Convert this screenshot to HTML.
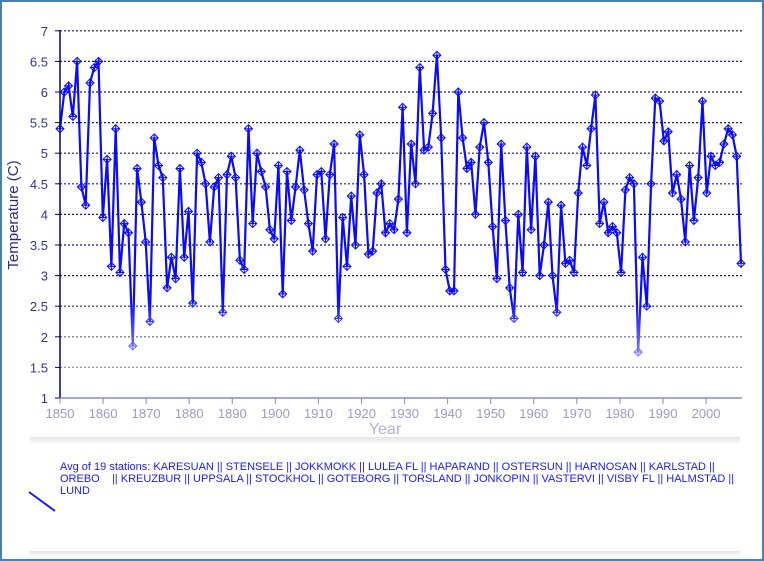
<!DOCTYPE html>
<html><head><meta charset="utf-8"><style>
body{margin:0;background:#fff}
#w{position:relative;width:764px;height:561px;overflow:hidden;background:#fff;font-family:"Liberation Sans",sans-serif}
#frame{position:absolute;left:0;top:0;width:760px;height:557px;border:2px solid #4a7fb0}
.leg{position:absolute;left:60px;top:461px;width:700px;font-size:11px;line-height:12px;color:#1a1aff;white-space:nowrap;letter-spacing:0px}
</style></head><body><div id="w">
<svg id="s" width="764" height="561" style="position:absolute;left:0;top:0">
<defs><linearGradient id="g" x1="0" y1="0" x2="0" y2="1">
<stop offset="0" stop-color="#fff" stop-opacity="0"/><stop offset="0.5" stop-color="#fff" stop-opacity="0.55"/><stop offset="1" stop-color="#fff" stop-opacity="0.2"/></linearGradient>
<linearGradient id="sh" x1="0" y1="0" x2="0" y2="1"><stop offset="0" stop-color="#e4e4e4"/><stop offset="1" stop-color="#fff"/></linearGradient></defs>
<g id="grid"></g>
<g id="ser"></g>
<rect x="0" y="300" width="764" height="130" fill="url(#g)"/>
<g id="ax"></g>
<text x="18" y="215" transform="rotate(-90 18 215)" text-anchor="middle" font-size="15" fill="#2a2a80">Temperature (C)</text>
<text x="385" y="434" text-anchor="middle" font-size="16" fill="#b0b4d8">Year</text>
<rect x="30" y="437" width="710" height="8" fill="url(#sh)"/>
<rect x="30" y="551" width="710" height="6" fill="url(#sh)"/>
<line x1="29" y1="492" x2="55" y2="511" stroke="#1a1aff" stroke-width="2"/>
</svg>
<div class="leg">Avg of 19 stations: KARESUAN || STENSELE || JOKKMOKK || LULEA FL || HAPARAND || OSTERSUN || HARNOSAN || KARLSTAD ||<br>OREBO &nbsp;&nbsp;&nbsp;|| KREUZBUR || UPPSALA || STOCKHOL || GOTEBORG || TORSLAND || JONKOPIN || VASTERVI || VISBY FL || HALMSTAD ||<br>LUND</div>
<div id="frame"></div>
</div>
<script>
var d=[5.4,6.0,6.1,5.6,6.5,4.45,4.15,6.15,6.4,6.5,3.95,4.9,3.15,5.4,3.05,3.85,3.7,1.85,4.75,4.2,3.55,2.25,5.25,4.8,4.6,2.8,3.3,2.95,4.75,3.3,4.05,2.55,5.0,4.85,4.5,3.55,4.45,4.6,2.4,4.65,4.95,4.6,3.25,3.1,5.4,3.85,5.0,4.7,4.45,3.75,3.6,4.8,2.7,4.7,3.9,4.45,5.05,4.4,3.85,3.4,4.65,4.7,3.6,4.65,5.15,2.3,3.95,3.15,4.3,3.5,5.3,4.65,3.35,3.4,4.35,4.5,3.7,3.85,3.75,4.25,5.75,3.7,5.15,4.5,6.4,5.05,5.1,5.65,6.6,5.25,3.1,2.75,2.75,6.0,5.25,4.75,4.85,4.0,5.1,5.5,4.85,3.8,2.95,5.15,3.9,2.8,2.3,4.0,3.05,5.1,3.75,4.95,3.0,3.5,4.2,3.0,2.4,4.15,3.2,3.25,3.05,4.35,5.1,4.8,5.4,5.95,3.85,4.2,3.7,3.8,3.7,3.05,4.4,4.6,4.5,1.75,3.3,2.5,4.5,5.9,5.85,5.2,5.35,4.35,4.65,4.25,3.55,4.8,3.9,4.6,5.85,4.35,4.95,4.8,4.85,5.15,5.4,5.3,4.95,3.2];
var NS="http://www.w3.org/2000/svg";
function el(p,t,a,tx){var e=document.createElementNS(NS,t);for(var k in a)e.setAttribute(k,a[k]);if(tx!=null)e.textContent=tx;document.getElementById(p).appendChild(e);}
function Y(v){return 398-(v-1)*61.2;}
var dx=(741-60)/(d.length-1);
for(var v=1.5;v<=7.01;v+=0.5){el("grid","line",{x1:60,x2:742,y1:Y(v),y2:Y(v),stroke:"#1a1a6e","stroke-width":1.2,"stroke-dasharray":"2,2"});}
for(var v=1;v<=7.01;v+=0.5){el("ax","text",{x:48,y:Y(v)+5,"text-anchor":"end","font-size":13,fill:"#333399"},String(v));el("ax","line",{x1:55,x2:60,y1:Y(v),y2:Y(v),stroke:"#000080"});}
el("ax","line",{x1:60,x2:60,y1:30,y2:398,stroke:"#000080","stroke-width":1.5});
el("ax","line",{x1:60,x2:742,y1:398,y2:398,stroke:"#8888cc","stroke-width":1.5});
for(var y=1850;y<=2000;y+=10){var x=60+(y-1850)*4.307;el("ax","line",{x1:x,x2:x,y1:398,y2:404,stroke:"#8888cc"});el("ax","text",{x:x,y:418,"text-anchor":"middle","font-size":13,fill:"#9a9ac8"},String(y));}
var pts=d.map(function(v,i){return (60+i*dx).toFixed(1)+","+Y(v).toFixed(1);}).join(" ");
el("ser","polyline",{points:pts,fill:"none",stroke:"#0a0aff","stroke-width":2.2});
d.forEach(function(v,i){var x=60+i*dx,y=Y(v);
el("ser","path",{d:"M"+x+","+(y-4)+"L"+(x+4)+","+y+"L"+x+","+(y+4)+"L"+(x-4)+","+y+"ZM"+(x-4)+","+y+"H"+(x+4)+"M"+x+","+(y-4)+"V"+(y+4),fill:"none",stroke:"#0a0aff","stroke-width":1});});
</script>
</body></html>
